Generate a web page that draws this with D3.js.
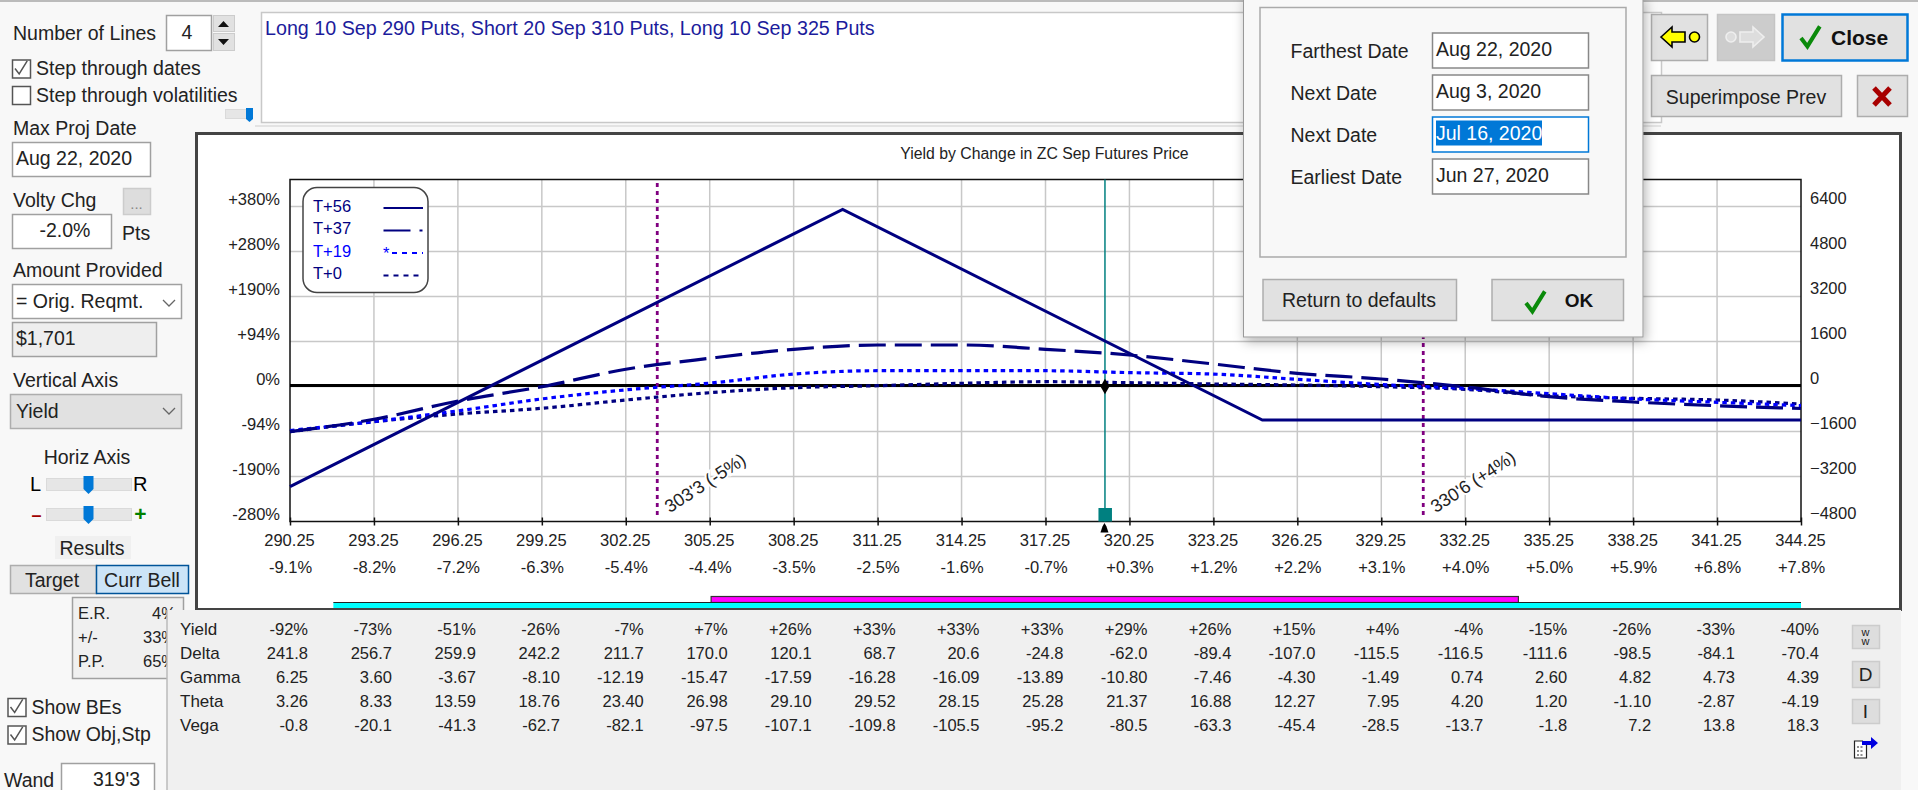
<!DOCTYPE html>
<html>
<head>
<meta charset="utf-8">
<title>Yield by Change in ZC Sep Futures Price</title>
<script src="https://cdn.jsdelivr.net/npm/d3@7"></script>
<style>
    html, body { margin: 0; padding: 0; background: #f8f8f8; overflow: hidden; }
    svg { display: block; font-family: "Liberation Sans", Arial, sans-serif; }
</style>
</head>
<body>
<svg id="canvas"></svg>
<script>
// chart values
const prices = [290.25, 293.25, 296.25, 299.25, 302.25, 305.25, 308.25, 311.25, 314.25, 317.25, 320.25, 323.25, 326.25, 329.25, 332.25, 335.25, 338.25, 341.25, 344.25];
const pctLabels = ["-9.1%", "-8.2%", "-7.2%", "-6.3%", "-5.4%", "-4.4%", "-3.5%", "-2.5%", "-1.6%", "-0.7%", "+0.3%", "+1.2%", "+2.2%", "+3.1%", "+4.0%", "+5.0%", "+5.9%", "+6.8%", "+7.8%"];
const dollarTicks = [6400, 4800, 3200, 1600, 0, -1600, -3200, -4800];
const yieldLabels = ["+380%", "+280%", "+190%", "+94%", "0%", "-94%", "-190%", "-280%"];

const t56Prices = [290.25, 310, 325, 344.25];
const t56Values = [-3562, 6300, -1190, -1190];
const t37Values = [-1607, -1166, -516, -7, 612, 1003, 1323, 1476, 1476, 1323, 1120, 800, 469, 267, -18, -363, -551, -683, -782];
const t19Values = [-1565, -1242, -867, -442, -119, 119, 442, 561, 561, 561, 493, 442, 255, 68, -68, -255, -442, -561, -680];
const t0Values = [-1607, -1252, -978, -775, -480, -220, -43, 28, 114, 171, 135, 89, 53, -7, -100, -327, -420, -480, -622];

const legendNames = ["T+56", "T+37", "T+19", "T+0"];
const beMarks = [303.375, 330.75];
const beLabels = ["303'3 (-5%)", "330'6 (+4%)"];
const wandPrice = 319.375;
const magentaRange = [305.3, 334.15];
const cyanRange = [291.8, 344.25];

const tableLabels = ["Yield", "Delta", "Gamma", "Theta", "Vega"];
const yieldRow = ["-92%", "-73%", "-51%", "-26%", "-7%", "+7%", "+26%", "+33%", "+33%", "+33%", "+29%", "+26%", "+15%", "+4%", "-4%", "-15%", "-26%", "-33%", "-40%"];
const deltaRow = ["241.8", "256.7", "259.9", "242.2", "211.7", "170.0", "120.1", "68.7", "20.6", "-24.8", "-62.0", "-89.4", "-107.0", "-115.5", "-116.5", "-111.6", "-98.5", "-84.1", "-70.4"];
const gammaRow = ["6.25", "3.60", "-3.67", "-8.10", "-12.19", "-15.47", "-17.59", "-16.28", "-16.09", "-13.89", "-10.80", "-7.46", "-4.30", "-1.49", "0.74", "2.60", "4.82", "4.73", "4.39"];
const thetaRow = ["3.26", "8.33", "13.59", "18.76", "23.40", "26.98", "29.10", "29.52", "28.15", "25.28", "21.37", "16.88", "12.27", "7.95", "4.20", "1.20", "-1.10", "-2.87", "-4.19"];
const vegaRow = ["-0.8", "-20.1", "-41.3", "-62.7", "-82.1", "-97.5", "-107.1", "-109.8", "-105.5", "-95.2", "-80.5", "-63.3", "-45.4", "-28.5", "-13.7", "-1.8", "7.2", "13.8", "18.3"];
const tableRows = [yieldRow, deltaRow, gammaRow, thetaRow, vegaRow];

const dialogLabels = ["Farthest Date", "Next Date", "Next Date", "Earliest Date"];
const dialogDates = ["Aug 22, 2020", "Aug 3, 2020", "Jul 16, 2020", "Jun 27, 2020"];

const NAVY = "#000080", BLUE = "#0000ff", INK = "#222", BTN = "#e1e1e1", BTN_EDGE = "#adadad";
const UI_SIZE = 19.5;

const svg = d3.select("#canvas").attr("width", 1918).attr("height", 790);

svg.append("defs").append("filter").attr("id", "shadow")
    .attr("x", "-10%").attr("y", "-10%").attr("width", "120%").attr("height", "125%")
    .append("feDropShadow").attr("dx", 2).attr("dy", 4).attr("stdDeviation", 6)
    .attr("flood-color", "#000").attr("flood-opacity", 0.3);

function box(parent, x, y, w, h, fill, stroke, sw) {
    return parent.append("rect")
        .attr("x", x + 0.5).attr("y", y + 0.5).attr("width", w).attr("height", h)
        .attr("fill", fill || "#fff").attr("stroke", stroke || "#a0a0a0").attr("stroke-width", sw || 1.5);
}

function label(parent, str, x, y, size, opts) {
    opts = opts || {};
    return parent.append("text").text(str)
        .attr("x", x).attr("y", y)
        .attr("dy", "0.35em")
        .attr("font-size", size || UI_SIZE)
        .attr("text-anchor", opts.anchor || "start")
        .attr("font-weight", opts.weight || "normal")
        .attr("fill", opts.fill || INK);
}

function checkMark(parent, x, y, s, color, sw) {
    parent.append("path")
        .attr("d", `M${x} ${y}l${s * 0.32} ${s * 0.42}l${s * 0.62} ${-s}`)
        .attr("fill", "none").attr("stroke", color).attr("stroke-width", sw);
}

function checkBox(parent, x, y, str, on) {
    box(parent, x, y, 18, 18, "#fff", "#555", 1.5);
    if (on) checkMark(parent, x + 3, y + 9, 13, "#555", 1.5);
    label(parent, str, x + 24, y + 9);
}

function slider(parent, x, y, w, thumbX) {
    box(parent, x, y, w, 12, "#e6e6e6", "#dadada", 1);
    parent.append("path")
        .attr("d", `M${thumbX - 5} ${y - 2}h10v13l-5 5l-5 -5z`)
        .attr("fill", "#0078d7");
}

drawChart();
drawLeftPanel();
drawTopRow();
drawTable();
drawDialog();

function drawChart() {
    const g = svg.append("g");
    box(g, 196, 133, 1704, 476, "#fff", "#444", 3);

    const x = d3.scaleLinear().domain([290.25, 344.25]).range([290, 1801]);
    const y = d3.scaleLinear().domain([6400, -4800]).range([206.5, 521.5]);
    const top = 179.5, bottom = y(-4800);

    label(g, "Yield by Change in ZC Sep Futures Price", 1044.5, 153, 15.8, { anchor: "middle" });

    // grid
    g.append("g").selectAll("line").data(dollarTicks.slice(0, -1)).join("line")
        .attr("x1", x(prices[0])).attr("x2", x(prices[18]))
        .attr("y1", d => y(d)).attr("y2", d => y(d))
        .attr("stroke", "#c8c8c8").attr("stroke-width", 1.5);
    g.append("g").selectAll("line").data(prices.slice(1, -1)).join("line")
        .attr("x1", d => x(d)).attr("x2", d => x(d))
        .attr("y1", top).attr("y2", bottom)
        .attr("stroke", "#c8c8c8").attr("stroke-width", 1.5);

    // axes
    const leftAxis = g.append("g").attr("transform", `translate(${x(prices[0])},0)`)
        .call(d3.axisLeft(y).tickValues(dollarTicks).tickFormat((d, i) => yieldLabels[i]).tickSize(0).tickPadding(10));
    const rightAxis = g.append("g").attr("transform", `translate(${x(prices[18])},0)`)
        .call(d3.axisRight(y).tickValues(dollarTicks).tickFormat(d3.format("d")).tickSize(0).tickPadding(9));
    const priceAxis = g.append("g").attr("transform", `translate(0,${bottom})`)
        .call(d3.axisBottom(x).tickValues(prices).tickFormat(d3.format(".2f")).tickSizeInner(4).tickSizeOuter(0));
    const pctAxis = g.append("g").attr("transform", `translate(0,${bottom})`)
        .call(d3.axisBottom(x).tickValues(prices).tickFormat((d, i) => pctLabels[i]).tickSize(0));
    [leftAxis, rightAxis, priceAxis, pctAxis].forEach(a => {
        a.select(".domain").remove();
        a.selectAll("text").attr("font-family", "Liberation Sans").attr("font-size", 16.5).attr("fill", INK);
    });
    leftAxis.selectAll("text").attr("dy", "-0.13em");
    rightAxis.selectAll("text").attr("dy", "-0.17em");
    priceAxis.selectAll("line").attr("y1", -4).attr("y2", 4).attr("stroke", "#111").attr("stroke-width", 1.5);
    priceAxis.selectAll("text").attr("y", 13).attr("dx", -1);
    pctAxis.selectAll("text").attr("y", 40);

    g.append("rect").attr("x", x(prices[0])).attr("y", top)
        .attr("width", x(prices[18]) - x(prices[0])).attr("height", bottom - top)
        .attr("fill", "none").attr("stroke", "#111").attr("stroke-width", 1.5);

    // zero line
    g.append("line").attr("x1", x(prices[0])).attr("x2", x(prices[18]))
        .attr("y1", y(0) - 1).attr("y2", y(0) - 1)
        .attr("stroke", "#000").attr("stroke-width", 3);

    // breakeven markers
    beMarks.forEach((d, i) => {
        g.append("line").attr("x1", x(d)).attr("x2", x(d))
            .attr("y1", 183).attr("y2", 519)
            .attr("stroke", "#800080").attr("stroke-width", 2.8).attr("stroke-dasharray", "4 4");
        label(g, beLabels[i], 0, 0, 18, {})
            .attr("transform", `translate(${x(d) + 9},508) rotate(-33)`)
            .attr("stroke", "#fff").attr("stroke-width", 4).attr("paint-order", "stroke");
    });

    // wand
    g.append("line").attr("x1", x(wandPrice)).attr("x2", x(wandPrice))
        .attr("y1", top).attr("y2", bottom)
        .attr("stroke", "#008080").attr("stroke-width", 1.5);
    g.append("rect").attr("x", x(wandPrice) - 6.5).attr("y", bottom - 13.5)
        .attr("width", 13.5).attr("height", 13.5).attr("fill", "#008080");
    g.append("path").attr("transform", `translate(${x(wandPrice) - 0.5},532.5)`)
        .attr("d", "M-4 0L-2 -6L0 -9.5L2 -6L4 0Z").attr("fill", "#000");

    // lines
    const curved = d3.line().x((d, i) => x(prices[i])).y(d => y(d)).curve(d3.curveMonotoneX);
    const straight = d3.line().x((d, i) => x(t56Prices[i])).y(d => y(d));

    const seriesLine = (d, fn, color, dash, width) => g.append("path")
        .attr("d", fn(d)).attr("fill", "none").attr("stroke", color)
        .attr("stroke-width", width).attr("stroke-dasharray", dash);

    seriesLine(t0Values, curved, NAVY, "4.5 4", 3.2);
    seriesLine(t19Values, curved, BLUE, "4.5 4", 3.2);
    seriesLine(t37Values, curved, NAVY, "27 9", 3.2);
    seriesLine(t56Values, straight, NAVY, null, 3);

    g.append("path").attr("transform", `translate(${x(wandPrice)},${y(0)})`)
        .attr("d", d3.symbol(d3.symbolDiamond, 70)).attr("fill", "#000");

    // legend
    const lg = g.append("g");
    lg.append("rect").attr("x", 303).attr("y", 187.5).attr("width", 125).attr("height", 105).attr("rx", 14)
        .attr("fill", "#fff").attr("stroke", "#444").attr("stroke-width", 1.5);
    const sampleColor = [NAVY, NAVY, BLUE, NAVY];
    const sampleDash = [null, "27 9 3", "5 5", "5 5"];
    legendNames.forEach((name, i) => {
        const rowY = 206 + i * 22.5;
        label(lg, name, 313, rowY, 16.5, { fill: i == 2 ? BLUE : NAVY });
        lg.append("line").attr("x1", i == 2 ? 392 : 383.5).attr("x2", 423)
            .attr("y1", rowY + 2).attr("y2", rowY + 2)
            .attr("stroke", sampleColor[i]).attr("stroke-width", 1.8)
            .attr("stroke-dasharray", sampleDash[i]);
    });
    label(lg, "*", 383, 253, 16.5, { fill: BLUE });

    // range bars
    g.append("rect").attr("x", x(magentaRange[0])).attr("y", 596.5)
        .attr("width", x(magentaRange[1]) - x(magentaRange[0])).attr("height", 6)
        .attr("fill", "#ff00ff").attr("stroke", "#333").attr("stroke-width", 1.2);
    g.append("rect").attr("x", x(cyanRange[0])).attr("y", 602.5)
        .attr("width", x(cyanRange[1]) - x(cyanRange[0])).attr("height", 5.5)
        .attr("fill", "#00ffff");
    g.append("line").attr("x1", x(cyanRange[0])).attr("x2", x(cyanRange[1]))
        .attr("y1", 602.5).attr("y2", 602.5).attr("stroke", "#222").attr("stroke-width", 1.2);
}

function drawLeftPanel() {
    const g = svg.append("g");
    g.append("rect").attr("x", 0).attr("y", 0).attr("width", 1918).attr("height", 2).attr("fill", "#bbb");

    label(g, "Number of Lines", 13, 33);
    box(g, 166, 15, 45, 35, "#fff");
    label(g, "4", 187, 32, UI_SIZE, { anchor: "middle" });
    box(g, 213, 15, 21, 16, BTN, "#ccc", 1);
    box(g, 213, 33, 21, 17, BTN, "#ccc", 1);
    g.append("path").attr("d", "M218 27h11l-5.5 -6z M218 39h11l-5.5 6z").attr("fill", "#111");

    checkBox(g, 12, 59.5, "Step through dates", true);
    checkBox(g, 12, 86, "Step through volatilities", false);
    box(g, 225, 109, 27, 9, "#e6e6e6", "#dadada", 1);
    g.append("path").attr("d", "M246 108h7v11l-3.5 3l-3.5 -3z").attr("fill", "#0078d7");

    label(g, "Max Proj Date", 13, 128);
    box(g, 12, 142, 138, 34, "#fff");
    label(g, "Aug 22, 2020", 16, 158);

    label(g, "Volty Chg", 13, 200);
    box(g, 123, 188, 27, 26, "#ddd", "#ccc", 1.5);
    label(g, "...", 136.5, 204, 15, { anchor: "middle", fill: "#888" });
    box(g, 12, 214, 99, 34, "#fff");
    label(g, "-2.0%", 65, 230, UI_SIZE, { anchor: "middle" });
    label(g, "Pts", 122, 233);

    label(g, "Amount Provided", 13, 270);
    box(g, 12, 284, 169, 34, "#fff");
    label(g, "= Orig. Reqmt.", 16, 301);
    g.append("path").attr("d", "M163 300l6 6l6 -6").attr("fill", "none").attr("stroke", "#666").attr("stroke-width", 1.3);
    box(g, 12, 322, 144, 34, "#eee");
    label(g, "$1,701", 16, 338);

    label(g, "Vertical Axis", 13, 380);
    box(g, 10, 394, 171, 34, BTN, BTN_EDGE);
    label(g, "Yield", 16, 411);
    g.append("path").attr("d", "M163 408l6 6l6 -6").attr("fill", "none").attr("stroke", "#666").attr("stroke-width", 1.3);

    label(g, "Horiz Axis", 87, 457, UI_SIZE, { anchor: "middle" });
    label(g, "L", 30, 484, 20, { fill: "#000" });
    slider(g, 46, 478, 85, 88.5);
    label(g, "R", 133, 484, 20, { fill: "#000" });
    label(g, "\u2013", 36.5, 515, 18, { anchor: "middle", fill: "#a00000", weight: "bold" });
    slider(g, 46, 508, 85, 88.5);
    label(g, "+", 140.5, 514, 21, { anchor: "middle", fill: "#008000", weight: "bold" });

    g.append("rect").attr("x", 55).attr("y", 536).attr("width", 76).attr("height", 23).attr("fill", "#f0f0f0");
    label(g, "Results", 92, 548, UI_SIZE, { anchor: "middle" });
    box(g, 10, 565, 86, 28, BTN, BTN_EDGE);
    label(g, "Target", 52, 580, UI_SIZE, { anchor: "middle" });
    box(g, 96, 565, 92, 28, "#cce4f7", "#005499");
    label(g, "Curr Bell", 142, 580, UI_SIZE, { anchor: "middle" });

    box(g, 72, 597, 111, 81, "#f0f0f0", "#a0a0a0", 1.5);
    label(g, "E.R.", 78, 613, 16.5);
    label(g, "+/-", 78, 637, 16.5);
    label(g, "P.P.", 78, 661, 16.5);
    label(g, "4%", 152, 613, 16.5);
    label(g, "33%", 143, 637, 16.5);
    label(g, "65%", 143, 661, 16.5);

    checkBox(g, 7.5, 698, "Show BEs", true);
    checkBox(g, 7.5, 725.5, "Show Obj,Stp", true);
    label(g, "Wand", 4, 780);
    box(g, 61, 763, 93, 30, "#fff");
    label(g, "319'3", 140, 779, UI_SIZE, { anchor: "end" });
}

function drawTopRow() {
    const g = svg.append("g");
    box(g, 261, 12, 1400, 110, "#fff", "#c8c8c8", 1.5);
    g.append("line").attr("x1", 255).attr("x2", 1661).attr("y1", 126).attr("y2", 126).attr("stroke", "#ddd").attr("stroke-width", 1.5);
    label(g, "Long 10 Sep 290 Puts, Short 20 Sep 310 Puts, Long 10 Sep 325 Puts", 265, 28, 19.7, { fill: "#1c1c9c" });

    box(g, 1651, 14, 56, 46, BTN, BTN_EDGE);
    g.append("path").attr("d", "M1661 37l11 -10v5h13v10h-13v5z").attr("fill", "#ffff00").attr("stroke", "#000").attr("stroke-width", 1.6);
    g.append("circle").attr("cx", 1694.5).attr("cy", 37).attr("r", 5).attr("fill", "#ffff00").attr("stroke", "#000").attr("stroke-width", 1.6);

    box(g, 1717, 14, 57, 46, "#ccc", "#c4c4c4");
    g.append("circle").attr("cx", 1731).attr("cy", 37).attr("r", 5).attr("fill", "#ddd").attr("stroke", "#eee").attr("stroke-width", 1.6);
    g.append("path").attr("d", "M1740 32h13v-5l11 10l-11 10v-5h-13z").attr("fill", "#ddd").attr("stroke", "#eee").attr("stroke-width", 1.6);

    box(g, 1782, 14, 125, 46, BTN, "#0078d7", 2.5);
    checkMark(g, 1801, 38, 20, "#0a8a0a", 4);
    label(g, "Close", 1831, 38, 21, { weight: "bold", fill: "#111" });

    box(g, 1651, 75, 190, 41, BTN, BTN_EDGE);
    label(g, "Superimpose Prev", 1746, 97, UI_SIZE, { anchor: "middle" });
    box(g, 1857, 75, 50, 41, BTN, BTN_EDGE);
    g.append("path").attr("d", "M1874 88l16 17M1890 88l-16 17").attr("stroke", "#a80000").attr("stroke-width", 5);
}

function drawTable() {
    const g = svg.append("g");
    g.append("rect").attr("x", 167).attr("y", 610).attr("width", 1734).attr("height", 180).attr("fill", "#f0f0f0");
    g.append("line").attr("x1", 167).attr("x2", 167).attr("y1", 610).attr("y2", 790).attr("stroke", "#bbb").attr("stroke-width", 1.5);

    const x = d3.scaleLinear().domain([290.25, 344.25]).range([290, 1801]);
    const rowY = d3.scalePoint().domain(tableLabels).range([629, 725]);

    tableLabels.forEach((name, r) => {
        label(g, name, 180, rowY(name), 17);
        g.append("g").selectAll("text").data(tableRows[r]).join("text")
            .text(d => d)
            .attr("x", (d, i) => x(prices[i]) + 18)
            .attr("y", rowY(name))
            .attr("dy", "0.35em")
            .attr("text-anchor", "end")
            .attr("font-size", 16.5)
            .attr("fill", INK);
    });

    box(g, 1852, 625, 27, 23, "#ddd", "#ccc");
    label(g, "w", 1865.5, 632, 11, { anchor: "middle" });
    label(g, "w", 1865.5, 641, 11, { anchor: "middle" });
    box(g, 1852, 661, 27, 26, "#ddd", "#ccc");
    label(g, "D", 1865.5, 674, 19, { anchor: "middle" });
    box(g, 1852, 699, 27, 24, "#ddd", "#ccc");
    label(g, "I", 1865.5, 711, 19, { anchor: "middle" });

    g.append("path").attr("d", "M1854.5 741h8l4 4v13h-12z").attr("fill", "#fff").attr("stroke", "#222").attr("stroke-width", 1.2);
    g.append("path").attr("d", "M1857 747h7M1857 751h7M1857 755h7").attr("stroke", "#222").attr("stroke-width", 1.2).attr("stroke-dasharray", "2 1.5");
    g.append("path").attr("d", "M1862 741h9v-4l7 6l-7 6v-4h-9z").attr("fill", "#0000e0");
}

function drawDialog() {
    const g = svg.append("g");
    g.append("rect").attr("x", 1243.5).attr("y", -4).attr("width", 399.5).attr("height", 341)
        .attr("fill", "#f8f8f8").attr("stroke", "#999").attr("stroke-width", 1)
        .attr("filter", "url(#shadow)");
    box(g, 1259.5, 7, 366, 249.5, "none", "#aaa", 1.5);

    dialogLabels.forEach((name, i) => {
        const midY = 50.5 + i * 42;
        label(g, name, 1290.5, midY + 0.5);
        const active = i == 2;
        box(g, 1432, midY - 18, 156, 35, "#fff", active ? "#0078d7" : "#888", 1.5);
        if (active) {
            g.append("rect").attr("x", 1436).attr("y", midY - 14).attr("width", 106).attr("height", 25).attr("fill", "#0078d7");
        }
        label(g, dialogDates[i], 1436, midY - 1, UI_SIZE, { fill: active ? "#fff" : INK });
    });

    box(g, 1262.5, 279, 193.5, 41, BTN, BTN_EDGE);
    label(g, "Return to defaults", 1359, 300, UI_SIZE, { anchor: "middle" });
    box(g, 1491.5, 279, 131.5, 41, BTN, BTN_EDGE);
    checkMark(g, 1526, 303, 20, "#0a8a0a", 4);
    label(g, "OK", 1579, 300, 19, { anchor: "middle", weight: "bold", fill: "#111" });
}
</script>
</body>
</html>
